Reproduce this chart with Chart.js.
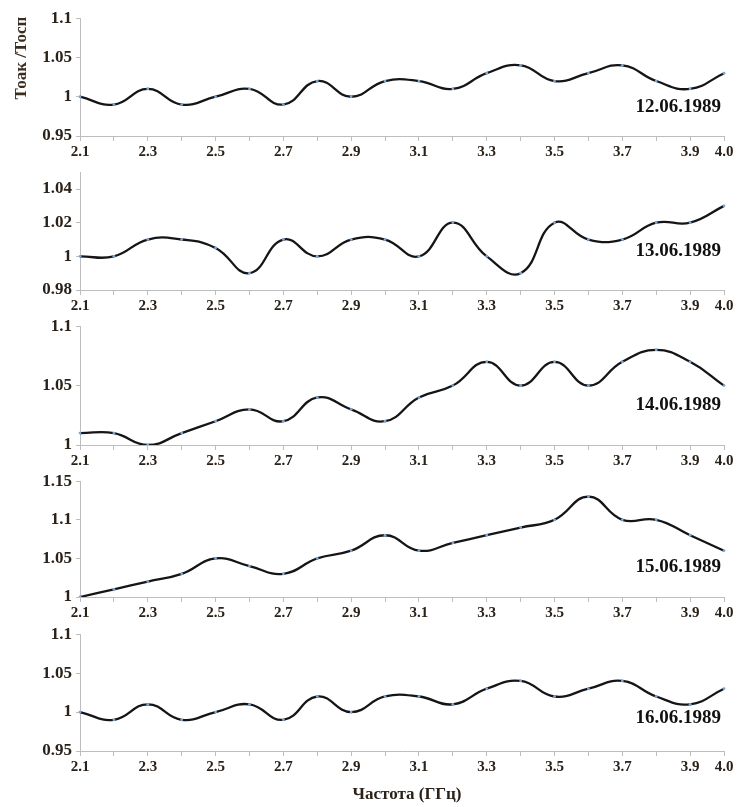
<!DOCTYPE html>
<html>
<head>
<meta charset="utf-8">
<script src="https://cdn.jsdelivr.net/npm/chart.js@4/dist/chart.umd.min.js"></script>
<style>
  html, body { margin: 0; padding: 0; background: #fff; }
  #wrap { position: relative; width: 738px; height: 807px; overflow: hidden; background: #fff; }
  #wrap canvas { position: absolute; left: 0; }
</style>
</head>
<body>
<div id="wrap"></div>
<script>
// ---- data ----
const categories = ['2.1','2.2','2.3','2.4','2.5','2.6','2.7','2.8','2.9','3.0','3.1','3.2','3.3','3.4','3.5','3.6','3.7','3.8','3.9','4.0'];
const dates = ['12.06.1989', '13.06.1989', '14.06.1989', '15.06.1989', '16.06.1989'];
const series12 = [1.00,0.99,1.01,0.99,1.00,1.01,0.99,1.02,1.00,1.02,1.02,1.01,1.03,1.04,1.02,1.03,1.04,1.02,1.01,1.03];
const series13 = [1.00,1.00,1.01,1.01,1.005,0.99,1.01,1.00,1.01,1.01,1.00,1.02,1.00,0.99,1.02,1.01,1.01,1.02,1.02,1.03];
const series14 = [1.01,1.01,1.00,1.01,1.02,1.03,1.02,1.04,1.03,1.02,1.04,1.05,1.07,1.05,1.07,1.05,1.07,1.08,1.07,1.05];
const series15 = [1.00,1.01,1.02,1.03,1.05,1.04,1.03,1.05,1.06,1.08,1.06,1.07,1.08,1.09,1.10,1.13,1.10,1.10,1.08,1.06];
const series16 = [1.00,0.99,1.01,0.99,1.00,1.01,0.99,1.02,1.00,1.02,1.02,1.01,1.03,1.04,1.02,1.03,1.04,1.02,1.01,1.03];
const yTicks12 = [0.95, 1, 1.05, 1.1];
const yTicks13 = [0.98, 1, 1.02, 1.04];
const yTicks14 = [1, 1.05, 1.1];
const yTicks15 = [1, 1.05, 1.1, 1.15];
const yTicks16 = [0.95, 1, 1.05, 1.1];
const yRanges = [[0.95, 1.1], [0.98, 1.05], [1, 1.1], [1, 1.15], [0.95, 1.1]];
const yTitle = 'Тоак /Тосп';
const xTitle = 'Частота (ГГц)';

// ---- layout / style ----
const SERIF = '"Liberation Serif", "Times New Roman", serif';
const LABEL_COLOR = '#2a2119';
const AXIS_COLOR = '#bdbdbd';
const panels = [
  { series: series12, ticks: yTicks12, top: 4,   height: 158, padBottom: 0,  dateUp: 29 },
  { series: series13, ticks: yTicks13, top: 158, height: 158, padBottom: 0,  dateUp: 39 },
  { series: series14, ticks: yTicks14, top: 312, height: 159, padBottom: 0,  dateUp: 40 },
  { series: series15, ticks: yTicks15, top: 467, height: 156, padBottom: 0,  dateUp: 30 },
  { series: series16, ticks: yTicks16, top: 620, height: 187, padBottom: 30, dateUp: 33 }
];

const wrap = document.getElementById('wrap');

panels.forEach((p, idx) => {
  const cv = document.createElement('canvas');
  cv.width = 738; cv.height = p.height;
  cv.style.top = p.top + 'px';
  cv.style.width = '738px'; cv.style.height = p.height + 'px';
  wrap.appendChild(cv);

  const textPlugin = {
    id: 'txt' + idx,
    afterDraw(chart) {
      const ctx = chart.ctx;
      const area = chart.chartArea;
      ctx.save();
      ctx.fillStyle = '#111';
      ctx.font = 'bold 19px ' + SERIF;
      ctx.textAlign = 'right';
      ctx.textBaseline = 'middle';
      ctx.fillText(dates[idx], area.right - 3, area.bottom - p.dateUp);
      if (idx === 0) {
        ctx.save();
        ctx.translate(22, 58 - p.top);
        ctx.rotate(-Math.PI / 2);
        ctx.textAlign = 'center';
        ctx.fillStyle = '#3b2d20';
        ctx.font = 'bold 17px ' + SERIF;
        ctx.fillText(yTitle, 0, 0);
        ctx.restore();
      }
      if (idx === panels.length - 1) {
        ctx.textAlign = 'center';
        ctx.fillStyle = '#2a2119';
        ctx.font = 'bold 17px ' + SERIF;
        ctx.fillText(xTitle, 407, 795 - p.top);
      }
      ctx.restore();
    }
  };

  new Chart(cv, {
    type: 'line',
    data: {
      labels: categories,
      datasets: [{
        data: p.series,
        borderColor: '#151515',
        borderWidth: 2.3,
        tension: 0.45,
        pointRadius: 1.4,
        pointBackgroundColor: '#7ea6d8',
        pointBorderWidth: 0,
        fill: false
      }]
    },
    options: {
      responsive: false,
      animation: false,
      events: [],
      layout: { padding: { top: 10, right: 14, left: 0, bottom: p.padBottom } },
      plugins: { legend: { display: false }, tooltip: { enabled: false }, title: { display: false } },
      scales: {
        x: {
          type: 'category',
          offset: false,
          afterFit(scale) { scale.height = 26; },
          grid: { drawOnChartArea: false, drawTicks: true, tickLength: 5, color: AXIS_COLOR, offset: false },
          border: { display: true, color: AXIS_COLOR, width: 1 },
          ticks: {
            autoSkip: false, maxRotation: 0, minRotation: 0, padding: 2,
            color: LABEL_COLOR,
            font: { family: SERIF, size: 15, weight: 'bold' },
            callback(val, i) {
              return (i % 2 === 0 || i === categories.length - 1) ? categories[i] : '';
            }
          }
        },
        y: {
          min: yRanges[idx][0],
          max: yRanges[idx][1],
          afterFit(scale) { scale.width = 80; },
          afterBuildTicks(scale) { scale.ticks = p.ticks.map(v => ({ value: v })); },
          grid: { drawOnChartArea: false, drawTicks: true, tickLength: 4, color: AXIS_COLOR },
          border: { display: true, color: AXIS_COLOR, width: 1 },
          ticks: {
            padding: 4,
            color: LABEL_COLOR,
            font: { family: SERIF, size: 17, weight: 'bold' },
            callback(val) { return String(+Number(val).toFixed(2)); }
          }
        }
      }
    },
    plugins: [textPlugin]
  });
});
</script>
</body>
</html>
